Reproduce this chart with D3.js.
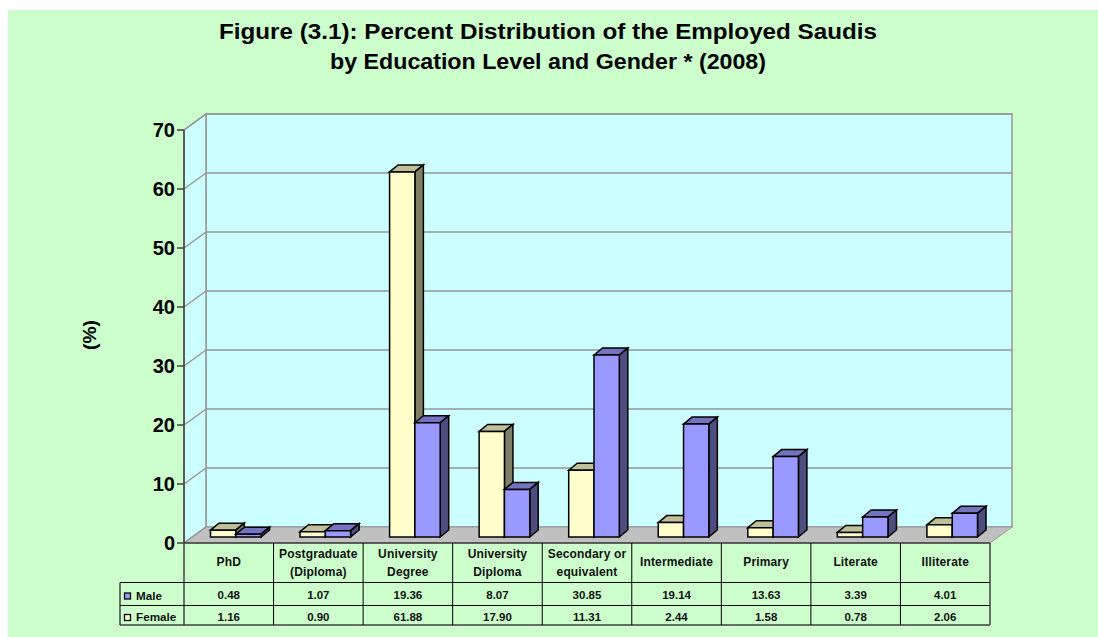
<!DOCTYPE html>
<html>
<head>
<meta charset="utf-8">
<script src="https://cdn.jsdelivr.net/npm/d3@7"></script>
<style>
html,body{margin:0;padding:0;background:#fff;}
svg{display:block;font-family:"Liberation Sans",Arial,sans-serif;font-weight:bold;}
</style>
</head>
<body>
<svg id="c" width="1098" height="637"></svg>
<script>
const categories = [["PhD"],["Postgraduate","(Diploma)"],["University","Degree"],["University","Diploma"],["Secondary or","equivalent"],["Intermediate"],["Primary"],["Literate"],["Illiterate"]];
const male = [0.48,1.07,19.36,8.07,30.85,19.14,13.63,3.39,4.01];
const female = [1.16,0.90,61.88,17.90,11.31,2.44,1.58,0.78,2.06];
const maleLabels = ["0.48","1.07","19.36","8.07","30.85","19.14","13.63","3.39","4.01"];
const femaleLabels = ["1.16","0.90","61.88","17.90","11.31","2.44","1.58","0.78","2.06"];
const yTicks = [0,10,20,30,40,50,60,70];
const titleLines = ["Figure (3.1): Percent Distribution of the Employed Saudis","by Education Level and Gender * (2008)"];

const svg = d3.select("#c");
const W = 1098, H = 637;
svg.append("rect").attr("x",8).attr("y",10).attr("width",W-8).attr("height",H-10).attr("fill","#ccffcc");
const x0 = 184, x1 = 990, yBase = 543, yTop = 130;
const wallDX = 22, wallDY = -16;
const barDX = 8.5, barDY = -7;
const y = d3.scaleLinear().domain([0,70]).range([yBase,yTop]);
const xBand = d3.scaleBand().domain(d3.range(categories.length)).range([x0,x1]);
const barY = v => y(v) - 6;
const barW = 25.3, barOff = 7;
const gridC = "#969696", edge = "#000";
const poly = (pts,fill,stroke,sw) => svg.append("polygon").attr("points",pts.map(p=>p.join(",")).join(" ")).attr("fill",fill).attr("stroke",stroke||"none").attr("stroke-width",sw||0);

// walls and floor
poly([[x0+wallDX,y(70)+wallDY],[x1+wallDX,y(70)+wallDY],[x1+wallDX,yBase+wallDY],[x0+wallDX,yBase+wallDY]],"#ccffff",gridC,1.5);
poly([[x0,y(70)],[x0+wallDX,y(70)+wallDY],[x0+wallDX,yBase+wallDY],[x0,yBase]],"#ccffff",gridC,1.5);
poly([[x0,yBase],[x0+wallDX,yBase+wallDY],[x1+wallDX,yBase+wallDY],[x1,yBase]],"#c0c0c0",gridC,1);

// gridlines
yTicks.forEach(t=>{
  if(t>0) svg.append("line").attr("x1",x0+wallDX).attr("x2",x1+wallDX).attr("y1",y(t)+wallDY).attr("y2",y(t)+wallDY).attr("stroke",gridC).attr("stroke-width",1.5);
  svg.append("line").attr("x1",x0).attr("x2",x0+wallDX).attr("y1",y(t)).attr("y2",y(t)+wallDY).attr("stroke",gridC).attr("stroke-width",1.5);
});

// bars
function bar(left,v,front,top,side){
  const t = barY(v), b = barY(0), r = left+barW;
  poly([[left,t],[left+barDX,t+barDY],[r+barDX,t+barDY],[r,t]],top,edge,1.5);
  poly([[r,t],[r+barDX,t+barDY],[r+barDX,b+barDY],[r,b]],side,edge,1.5);
  poly([[left,t],[r,t],[r,b],[left,b]],front,edge,1.5);
}
categories.forEach((c,i)=>{
  const mid = xBand(i)+xBand.bandwidth()/2+barOff;
  bar(mid-barW,female[i],"#ffffcc","#bfbf99","#808066");
  bar(mid,male[i],"#9999ff","#7373bf","#4d4d80");
});

// y axis
svg.append("line").attr("x1",x0).attr("x2",x0).attr("y1",y(70)).attr("y2",yBase).attr("stroke","#404040").attr("stroke-width",1.5);
yTicks.forEach(t=>{
  svg.append("line").attr("x1",x0-7).attr("x2",x0).attr("y1",y(t)).attr("y2",y(t)).attr("stroke","#404040").attr("stroke-width",1.5);
  svg.append("text").attr("x",x0-9).attr("y",y(t)+7).attr("text-anchor","end").attr("font-size",20).attr("fill","#000").text(t);
});

// table
const rows = [543,582.5,605.5,625];
const legX = 120;
const tbl = "#000", tblOuter = "#404040";
rows.slice(1,3).forEach(r=>svg.append("line").attr("x1",legX).attr("x2",x1).attr("y1",r).attr("y2",r).attr("stroke",tbl).attr("stroke-width",1));
svg.append("line").attr("x1",x0).attr("x2",x1).attr("y1",rows[0]).attr("y2",rows[0]).attr("stroke",tbl).attr("stroke-width",1);
svg.append("line").attr("x1",legX).attr("x2",x1).attr("y1",rows[3]).attr("y2",rows[3]).attr("stroke",tblOuter).attr("stroke-width",1.5);
d3.range(categories.length+1).forEach(i=>{
  const xx = x0+i*xBand.bandwidth();
  const outer = i==0||i==categories.length;
  svg.append("line").attr("x1",xx).attr("x2",xx).attr("y1",rows[0]).attr("y2",rows[3]).attr("stroke",outer?tblOuter:tbl).attr("stroke-width",outer?1.5:1);
});
svg.append("line").attr("x1",legX).attr("x2",legX).attr("y1",rows[1]).attr("y2",rows[3]).attr("stroke",tblOuter).attr("stroke-width",1.5);

const cell = (cx,cy,txt,fs,ls)=>svg.append("text").attr("x",cx).attr("y",cy).attr("text-anchor","middle").attr("font-size",fs).attr("letter-spacing",ls).attr("fill","#111").text(txt);
categories.forEach((c,i)=>{
  const cx = xBand(i)+xBand.bandwidth()/2;
  if(c.length==1) cell(cx,566,c[0],12,0.15);
  else { cell(cx,558,c[0],12,0.15); cell(cx,575.5,c[1],12,0.15); }
  cell(cx,599,maleLabels[i],11.5,0);
  cell(cx,620.5,femaleLabels[i],11.5,0);
});
// legend keys
const legendKeys = [["Male","#9999ff",593,599.5],["Female","#ffffcc",614.5,621]];
legendKeys.forEach(d=>{
  svg.append("rect").attr("x",124.5).attr("y",d[2]).attr("width",6).attr("height",6).attr("fill",d[1]).attr("stroke","#000").attr("stroke-width",1.3);
  svg.append("text").attr("x",136).attr("y",d[3]).attr("font-size",11.7).attr("fill","#111").text(d[0]);
});

// titles
const titleLengths = [658,436];
titleLines.forEach((t,i)=>svg.append("text").attr("x",548).attr("y",39+i*30).attr("text-anchor","middle").attr("font-size",21.5).attr("textLength",titleLengths[i]).attr("lengthAdjust","spacingAndGlyphs").attr("fill","#000").text(t));
svg.append("text").attr("transform","translate(96,335) rotate(-90)").attr("text-anchor","middle").attr("font-size",19).attr("textLength",30).attr("lengthAdjust","spacingAndGlyphs").attr("fill","#000").text("(%)");
</script>
</body>
</html>
